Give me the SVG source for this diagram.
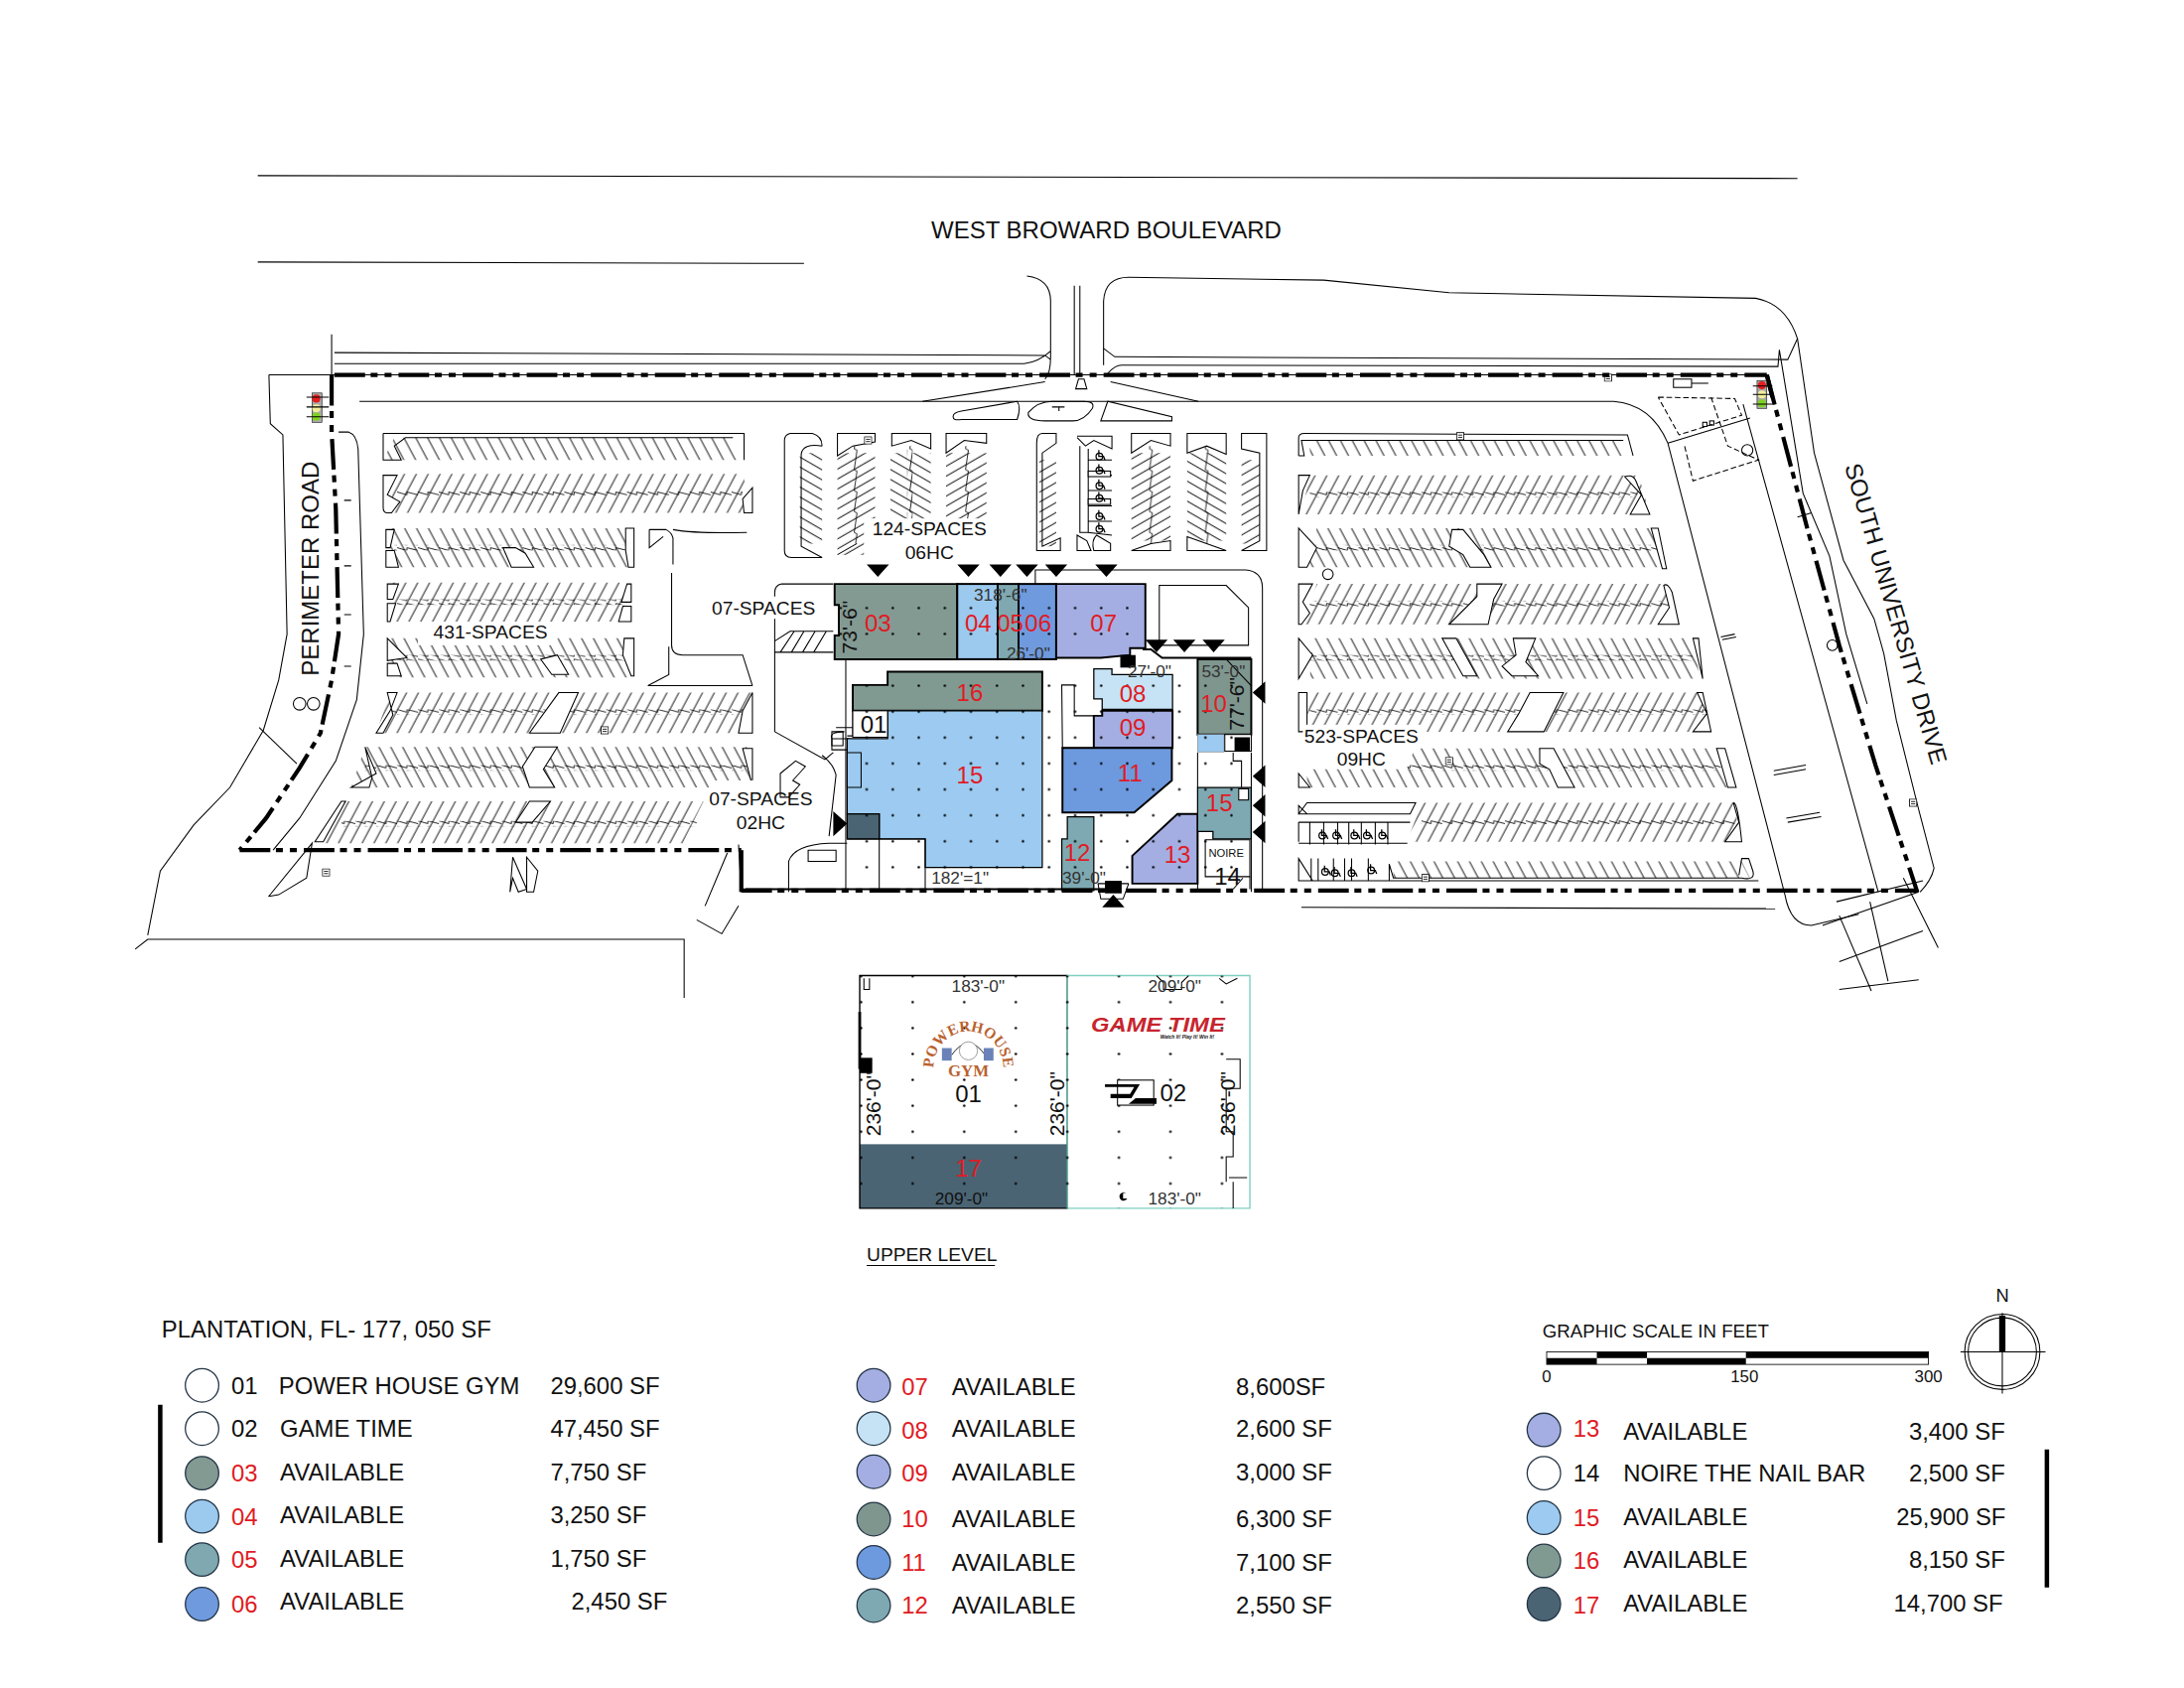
<svg xmlns="http://www.w3.org/2000/svg" width="2200" height="1700" viewBox="0 0 2200 1700">
<style>
text{font-family:"Liberation Sans",Arial,sans-serif;fill:#111}
.l{font-size:17.1px}.s{font-size:13.7px}.c{text-anchor:middle}.r{fill:#e01b24}
.d{font-size:12.3px;fill:#333}
.v{font-size:15px}
#legend .l{font-size:17px}
.k{fill:none;stroke:#000;stroke-width:.75}
.w{fill:#fff;stroke:#000;stroke-width:.75}
.b{stroke:#000;stroke-width:1.4}
.g{stroke:#000;stroke-width:.9}
.bd{fill:none;stroke:#000;stroke-width:3;stroke-dasharray:22 4 5 5 5 5}
.ar{fill:#000}
.lc{stroke:#234;stroke-width:.9}
</style>
<defs>
<pattern id="hf" width="7.500" height="7" patternUnits="userSpaceOnUse" patternTransform="rotate(28)"><path d="M3.500 0V7" stroke="#000" stroke-width=".65"/></pattern>
<pattern id="hb" width="7.500" height="7" patternUnits="userSpaceOnUse" patternTransform="rotate(-28)"><path d="M3.500 0V7" stroke="#000" stroke-width=".65"/></pattern>
<pattern id="vf" width="6.200" height="6" patternUnits="userSpaceOnUse" patternTransform="rotate(60)"><path d="M3 0V6" stroke="#000" stroke-width=".65"/></pattern>
<pattern id="vb" width="6.200" height="6" patternUnits="userSpaceOnUse" patternTransform="rotate(-60)"><path d="M3 0V6" stroke="#000" stroke-width=".65"/></pattern>
<pattern id="zz" width="15" height="4" patternUnits="userSpaceOnUse"><path d="M0 1L7 3L7 1L15 3" fill="none" stroke="#000" stroke-width=".6"/></pattern>
<pattern id="zv" width="4" height="15" patternUnits="userSpaceOnUse"><path d="M2 0L1 7L3 8L2 15" fill="none" stroke="#000" stroke-width=".6"/></pattern>
<pattern id="dots" x="621" y="491" width="18.7" height="18.6" patternUnits="userSpaceOnUse"><circle cx="1" cy="1" r=".9" fill="#000"/></pattern>
<pattern id="updots" x="654" y="718" width="37" height="18.6" patternUnits="userSpaceOnUse"><circle cx="1" cy="1" r=".9" fill="#000"/></pattern>
<symbol id="sign" width="6" height="6" viewBox="0 0 6 6"><rect x=".4" y=".4" width="5.2" height="5.2" fill="#fff" stroke="#000" stroke-width=".6"/><path d="M1.5 2.2H4.5M1.5 3.8H4.5" stroke="#000" stroke-width=".6"/></symbol>
<symbol id="hc" width="9" height="9" viewBox="0 0 9 9"><circle cx="4" cy="5.5" r="2.4" fill="none" stroke="#000" stroke-width=".9"/><path d="M3.6 1V5.5H7L8 8" fill="none" stroke="#000" stroke-width=".9"/></symbol>
</defs>
<rect width="2200" height="1700" fill="#fff"/>
<g transform="scale(1.4036)">

<g id="roads">
<path class="k" d="M185 126L1290 128M185 188L577 189"/>
<path class="k" d="M737 198Q754 200 754 216V256Q754 268 750 272M240 253L750 255L754 258M240 261L735 261Q745 260 754 252"/>
<path class="k" d="M771 205V269M775 205V269"/>
<path class="k" d="M792 262V216Q793 199 810 199L950 201L1040 210L1260 214Q1282 218 1290 243L1302 325L1323 402L1345 444L1352 469L1361 517L1377 581L1388 623Q1386 632 1378 640"/>
<path class="k" d="M792 250L800 256L1283 258L1290 243M795 268Q800 262 805 262L1276 263L1277 251L1294 354L1313 399L1325 455L1340 505"/>
<path class="k" d="M238 240V269L1268 269M193 269H238M193 269L194 304L203 312L206 455L200 488L189 524L165 565L139 592L115 625L106 671"/>
<path class="k" d="M97 681L106 674H491V716"/>
<path class="k" d="M186 522L213 548"/>
<circle class="k" cx="215" cy="505" r="4.500"/><circle class="k" cx="225" cy="505" r="4.500"/>
<path class="k" d="M258 288H1158Q1185 290 1197 318L1281 642Q1285 664 1300 664L1334 656"/>
<path class="k" d="M243 310H250Q256 312 257 322L261 455L256 502L241 546L215 587L196 610"/>
<path class="k" d="M662 288L750 274M797 274L860 288"/>
<path class="k" d="M684 299Q684 296 690 295L730 288Q733 292 730 301H690Q684 302 684 299Z"/>
<path class="k" d="M738 296Q745 288 755 288H778Q786 288 784 293Q778 302 770 302H750Q737 302 738 296Z"/>
<path class="k" d="M790 302L795 288L841 299V302Z"/>
<path class="k" d="M772 279L774 272H778L780 279Z"/>
<path class="k" d="M755 292H764M760 292V295"/>
<path class="k" d="M1251 290L1348 640M1197 318L1256 300"/>
<path class="k" stroke-dasharray="4 2" d="M1190 285L1245 286L1250 298L1205 312L1190 285M1228 285L1240 320L1262 330L1215 345L1209 320"/>
<circle class="k" cx="1254" cy="323" r="4"/><circle class="k" cx="1315" cy="463" r="3.800"/><circle class="k" cx="953" cy="412" r="3.800"/>
<rect class="k" x="1227" y="302" width="3" height="3"/><rect class="k" x="1222" y="303" width="3" height="3"/>
<rect class="k" x="1201" y="272" width="13" height="6"/>
<path class="k" d="M1214 275H1226"/>
<path class="k" d="M934 651L1274 652"/>
<path class="k" d="M1318 647L1380 632M1342 647L1355 704M1320 657L1343 711M1366 630L1391 680M1308 664L1377 640M1320 690L1380 668M1320 710L1377 703"/>
<path class="k" d="M1273 553L1296 549M1273 556L1296 552M1282 587L1306 583M1283 590L1307 586M1235 457L1245 455M1236 459L1246 457M1300 368L1290 371"/>
<path class="k" d="M252 359H247M252 406H247M252 441H247M252 478H247"/>
<path class="k" d="M193 643L224 605L220 630L200 642L194 643Z"/>
<path class="k" d="M368 615L378 638L372 640L368 630L366 640ZM378 615L386 625L383 640L378 640Z"/>
<path class="k" d="M522 612L506 650M500 660L518 670L530 650M530 605L532 640"/>
</g>

<g id="parking">
<polygon style="fill:url(#hb)" points="283,314 526,314 534,330 275,330"/>
<path class="k" d="M275 311H534V330M275 311V330H288L283 320L291 314H526"/>
<polygon style="fill:url(#hf)" points="285,340 533,340 540,368 278,368"/><rect x="285" y="352" width="248" height="4" style="fill:url(#zz)"/>
<path class="w" d="M275 341L285 341L278 355L287 360L281 368H278Q275 368 275 364Z"/><path class="w" d="M534 368L540 368V350L533 358Z"/>
<polygon style="fill:url(#hb)" points="278,379 455,379 455,407 278,407"/><rect x="283" y="391" width="170" height="4" style="fill:url(#zz)"/>
<path class="w" d="M277 380H283L280 393H277ZM277 395H283L286 407H277ZM367 407L361 393H370L377 397L383 407ZM449 379H455V407H451L449 395Z"/>
<polygon style="fill:url(#hf)" points="280,418 448,418 448,446 280,446"/><rect x="285" y="430" width="165" height="4" style="fill:url(#zz)"/>
<path class="w" d="M278 419H286L282 430H278ZM278 433H284L280 446H278ZM450 419L453 419V432H446ZM447 435H453V446H444Z"/>
<polygon style="fill:url(#hb)" points="280,458 455,458 455,486 280,486"/><rect x="284" y="470" width="170" height="4" style="fill:url(#zz)"/>
<path class="w" d="M278 458L292 472L278 474ZM278 476H285L288 485H278ZM400 470L408 484H396L388 473ZM448 458H455V485H453L447 470Z"/>
<rect x="300" y="447" width="100" height="16" fill="#fff"/>
<polygon style="fill:url(#hf)" points="280,497 540,497 540,526 270,526"/><rect x="280" y="509" width="260" height="4" style="fill:url(#zz)"/>
<path class="w" d="M278 497L285 497L280 510L270 526H275L282 513ZM401 497H415L402 526H380ZM533 510L540 497V526H530Z"/>
<polygon style="fill:url(#hb)" points="262,536 540,536 540,565 252,565"/><rect x="262" y="549" width="278" height="4" style="fill:url(#zz)"/>
<path class="w" d="M262 536L270 555L252 565H265L267 558ZM384 536H400L390 552L398 565H380L375 550ZM533 537H540V564Z"/>
<polygon style="fill:url(#hf)" points="245,575 505,575 490,605 230,605"/><rect x="245" y="589" width="255" height="4" style="fill:url(#zz)"/>
<path class="w" d="M245 575H248L232 604L226 604ZM380 575H395L382 590H370Z"/>
<rect x="510" y="560" width="95" height="46" fill="#fff"/>
<path class="k" d="M466 380H478Q482 382 483 386V405M466 380V393L476 385M483 380Q500 383 536 382M482 411V463Q482 470 490 470H533L540 492M540 492H465L480 484V464"/>

<polygon style="fill:url(#vb)" points="574,325 590,325 590,390 574,390"/><path class="k" d="M590 320Q590 313 583 311H567Q563 312 563 316V395Q563 400 568 400L590 400L575 392V326Q576 318 590 320"/>
<polygon style="fill:url(#vf)" points="601,325 628,325 628,398 601,398"/><rect x="612" y="320" width="4" height="70" style="fill:url(#zv)"/><path class="w" d="M601 311H628V317L612 320L601 327Z"/><path class="k" d="M601 398L615 390"/>
<polygon style="fill:url(#vb)" points="639,325 668,325 668,385 639,385"/><rect x="651" y="320" width="4" height="65" style="fill:url(#zv)"/><path class="w" d="M640 311H668V322L654 316L640 320Z"/>
<polygon style="fill:url(#vf)" points="679,325 708,325 708,383 679,383"/><rect x="692" y="320" width="4" height="63" style="fill:url(#zv)"/><path class="w" d="M679 311H708V318L692 316L679 325Z"/>
<polygon style="fill:url(#vf)" points="746,330 758,330 758,392 746,392"/><path class="k" d="M758 311H748Q744 311 744 318V395H761V386L748 392V325L758 318Z"/>
<path class="k" d="M773 313H798V322L785 316L779 320L773 314M775 320V382H781M781 322V382L798 384M781 330H798M781 341H798M781 352H798M781 363H798M781 374H798"/>
<rect class="w" x="781" y="338" width="16" height="4"/><rect class="w" x="781" y="358" width="16" height="4"/>
<use href="#hc" x="785" y="322"/><use href="#hc" x="785" y="332"/><use href="#hc" x="785" y="343"/><use href="#hc" x="785" y="352"/><use href="#hc" x="785" y="365"/><use href="#hc" x="785" y="374"/>
<path class="k" d="M773 384V395H783L780 388ZM787 384Q783 388 785 395H797V390Z"/>
<polygon style="fill:url(#vf)" points="812,325 840,325 840,388 812,388"/><rect x="824" y="320" width="4" height="72" style="fill:url(#zv)"/><path class="w" d="M812 311H840V320L826 316L812 325Z"/><path class="w" d="M812 395L826 390L840 388V395Z"/>
<polygon style="fill:url(#vb)" points="852,325 880,325 880,388 852,388"/><rect x="864" y="320" width="4" height="72" style="fill:url(#zv)"/><path class="w" d="M852 311H880V326L866 320L852 325Z"/><path class="w" d="M852 395V385L866 390L880 395Z"/>
<polygon style="fill:url(#vf)" points="891,330 904,330 904,390 891,390"/><path class="k" d="M891 311H909V395H891L904 388V325L891 322Z"/>
<rect x="620" y="372" width="92" height="32" fill="#fff"/>

<polygon style="fill:url(#hb)" points="940,316 1162,316 1170,327 940,327"/><path class="k" d="M932 327V314Q932 311 936 311L1168 312L1172 327M932 327H936L934 316L1165 316"/>
<polygon style="fill:url(#hf)" points="940,341 1176,341 1184,369 934,369"/><rect x="940" y="353" width="235" height="4" style="fill:url(#zz)"/><path class="w" d="M932 341H940L935 352L932 369ZM1166 342Q1172 340 1174 345L1184 369H1170L1178 355Z"/>
<polygon style="fill:url(#hb)" points="945,379 1187,379 1193,407 938,407"/><rect x="940" y="391" width="250" height="4" style="fill:url(#zz)"/><path class="w" d="M932 379L945 393L938 407H932ZM1042 380H1050L1065 398L1070 407H1055L1050 398L1040 392ZM1185 379H1190L1196 408H1193Z"/>
<polygon style="fill:url(#hf)" points="945,419 1196,419 1205,448 935,448"/><rect x="940" y="431" width="260" height="4" style="fill:url(#zz)"/><path class="w" d="M932 419H942L935 432L940 440L934 448H932ZM1060 419H1078L1072 430L1068 448H1040L1060 428ZM1194 420Q1197 418 1200 425L1205 448H1190L1198 436Z"/>
<polygon style="fill:url(#hb)" points="942,458 1215,458 1220,487 940,487"/><rect x="940" y="470" width="275" height="4" style="fill:url(#zz)"/><path class="w" d="M932 458L942 470L932 487ZM1035 458H1045L1060 485H1050ZM1086 458H1102L1095 475L1104 485H1085L1078 478L1088 470ZM1215 458H1219L1222 487Z"/>
<polygon style="fill:url(#hf)" points="942,497 1222,497 1228,525 935,525"/><rect x="940" y="509" width="285" height="4" style="fill:url(#zz)"/><path class="w" d="M932 497H938V525H932ZM1098 497H1122L1108 525H1082L1090 512ZM1218 497L1222 497L1228 525H1215L1225 512Z"/>
<rect x="935" y="520" width="88" height="26" fill="#fff"/>
<polygon style="fill:url(#hb)" points="1015,537 1238,537 1240,565 938,565 938,552 1010,552"/><rect x="1010" y="549" width="225" height="4" style="fill:url(#zz)"/><path class="w" d="M932 555L940 565H932ZM1105 537H1115L1130 565H1118L1112 552L1105 548ZM1232 537H1238L1246 565H1240Z"/>
<polygon style="fill:url(#hf)" points="1020,576 1244,576 1250,604 1010,604"/><rect x="1020" y="588" width="225" height="4" style="fill:url(#zz)"/>
<path class="w" d="M938 576H1016L1012 584H932ZM932 578V584H938ZM1244 576Q1247 575 1250 604H1238L1248 590Z"/>
<path class="k" d="M932 590H945L1012 590M932 605H1010M932 590V604M940 590V606M950 590V606M960 590V606M968 590V606M977 590V606M987 590V606M996 590V606"/>
<use href="#hc" x="945" y="594"/><use href="#hc" x="955" y="594"/><use href="#hc" x="968" y="594"/><use href="#hc" x="977" y="594"/><use href="#hc" x="988" y="594"/>
<polygon style="fill:url(#hb)" points="1000,618 1250,618 1256,630 1000,630"/>
<path class="k" d="M932 616L942 632H932ZM941 616V632H946V616M957 616V632M965 616V632M970 616V632M982 616V632L997 632V620L1000 630H1250Q1260 632 1258 625L1255 616H1250L1248 628M932 632H1262"/>
<use href="#hc" x="947" y="620"/><use href="#hc" x="954" y="621"/><use href="#hc" x="966" y="621"/><use href="#hc" x="980" y="619"/>
<use href="#sign" x="620" y="313"/><use href="#sign" x="1045" y="310"/><use href="#sign" x="1037" y="543"/><use href="#sign" x="431" y="521"/><use href="#sign" x="231" y="623"/><use href="#sign" x="1020" y="627"/><use href="#sign" x="1151" y="268"/><use href="#sign" x="1370" y="573"/>
</g>

<g id="site-extras">
<path class="k" d="M743 419V409H894Q906 410 906 422V640"/>
<path class="k" d="M598 419H561Q556 420 556 425V525M556 525L592 545L598 540M556 460L567 453H598M560 468L570 453M568 468L577 453M576 468L585 453M584 468L593 453M556 468H598"/>
<path class="k" d="M607 468V640"/>
<path class="k" d="M560 555L571 546L578 550L569 560L574 563L566 572H560ZM590 542Q598 548 600 556L595 600"/>
<path class="k" d="M566 640V618Q570 606 595 605H608M580 610H600V618H580Z"/>
<path class="k" d="M597 530H609V538H597ZM597 530Q595 525 606 525"/>
<path class="w" d="M832 420H880L896 436V463H832Z"/>
</g>

<g id="building">
<path class="w" d="M762 491.500H771V513.600H785V536.600H762.500Z"/>
<path id="u03" class="b" fill="#839a93" d="M599 419H687V473H599V456H602V434H599Z"/>
<rect id="u04" class="b" fill="#9cc9ee" x="687" y="419" width="29" height="54"/>
<rect id="u05" class="b" fill="#7fa8b0" x="716" y="419" width="15" height="54"/>
<rect id="u06" class="b" fill="#6f9ade" x="731" y="419" width="27" height="54"/>
<path id="u07" class="b" fill="#a4aee2" d="M758 419H822V465H811V470L790 472H758Z"/>
<path id="u16" class="b" fill="#809a92" d="M637 482H748V510H612V491.500H637Z"/>
<path id="u15a" class="g" fill="#9ccaf0" d="M637 510H748V622.500H664V602H631V584H608V530H637Z"/>
<path class="k" d="M608 528H612V510H637V528"/>
<rect id="u17b" class="g" fill="#4a6473" x="608" y="584" width="23" height="18"/>
<path class="k" d="M608 602H664V640M631 602V640"/>
<path class="w" d="M608 540H618V565H608Z" style="fill:#9ccaf0"/>
<path id="u08" class="g" fill="#c5e3f5" d="M785 480H798V484H841.500V509H791V501.500H785Z"/>
<path id="u09" class="b" fill="#a4aee2" d="M791 510H841.500V536.600H785V513.600H791Z"/>
<path id="u11" class="b" fill="#6d99de" d="M762.500 536.600H841V560L814 583H762.500Z"/>
<path id="u12" class="g" fill="#7ea9b2" d="M766 586H785V639H762V602H766Z"/>
<path id="u13" class="b" fill="#a4aee2" d="M845 584H859.500V634H812.600V614Z"/>
<path id="u15b" class="g" fill="#7ea9b2" d="M859.500 565H898V602H870.500V596.600H859.500Z"/>
<path id="u10" class="b" fill="#7f968f" d="M859.500 473H898V527H859.500Z"/>
<path class="k" d="M880 473L898 492"/>
<path class="w" d="M865 602.500H897V629H865Z"/>
<path class="k" d="M859.500 597V638M897 629V638M885 638L892 630"/>
<rect fill="#9ccaf0" stroke="#777" stroke-width=".4" x="859.500" y="527" width="19" height="12.500"/>
<rect class="w" x="879" y="527" width="19" height="12"/>
<rect x="886" y="529" width="11" height="10" fill="#000"/>
<path class="k" d="M859.500 540V565M885 540V546H891V565M898 540V640"/>
<rect class="w" x="889" y="566" width="7" height="8"/>
<path class="b" fill="none" d="M820 466H826L834 472H898"/>
<rect x="804" y="470" width="11" height="9" fill="#000"/>
<rect class="w" x="612" y="510" width="25" height="19"/>
<path class="k" d="M600 522H612M597 525H605V535H597Z"/>
<rect fill="url(#dots)" x="612" y="482" width="136" height="156"/>
<rect fill="url(#dots)" x="748" y="482" width="150" height="156"/>
<rect fill="url(#dots)" x="599" y="424" width="224" height="46"/>
<path class="b" fill="none" d="M535 638H800"/>
<path class="k" d="M788 634L790 645L806 645L810 634M788 634H810"/>
<rect x="793" y="632" width="12" height="9" fill="#000"/>
</g>

<g id="connectors">
<path class="bd" d="M172 610H532"/>
<path d="M532 610V640" fill="none" stroke="#000" stroke-width="3"/>
<path class="bd" d="M532 639H1376"/>
<path class="bd" d="M240 269H1268"/>
<path class="bd" d="M238 269L238 310L241 365L243 455L238 488L230 526L215 551L191 587L172 610"/>
<path class="bd" d="M1268 269L1297 379L1320 463L1346 549L1376 640"/>
<path d="M1268 269L1272 285" stroke="#000" stroke-width="3"/>
</g>

<g id="arrows" class="ar">
<path d="M622 405H638L630 414ZM687 405H703L695 414ZM710 405H726L718 414ZM729 405H745L737 414ZM750 405H766L758 414ZM786 405H802L794 414Z"/>
<path d="M822 459H838L830 468ZM842 459H858L850 468ZM863 459H879L871 468Z"/>
<path d="M899 497L908 489V505ZM899 557L908 549V565ZM899 578L908 570V586ZM899 597L908 589V605Z"/>
<path d="M598 582L608 591L598 600Z"/>
<path d="M791 651L799 642L807 651Z"/>
</g>

<g id="lights">
<rect x="224" y="282" width="7" height="21" fill="#aaa" stroke="#000" stroke-width=".4"/>
<circle cx="227" cy="286" r="2.900" fill="#e41e1e"/><circle cx="227" cy="293" r="2.900" fill="#f2ee9c"/><circle cx="227" cy="299" r="2.900" fill="#7ed321"/>
<rect x="1261" y="273" width="7" height="20" fill="#aaa" stroke="#000" stroke-width=".4"/>
<circle cx="1264.500" cy="276.500" r="2.900" fill="#e41e1e"/><circle cx="1264.500" cy="283" r="2.900" fill="#f2ee9c"/><circle cx="1264.500" cy="289.500" r="2.900" fill="#7ed321"/>
<path class="k" d="M220 285H236M220 292H236M220 299H236M1258 277H1272M1258 283H1272M1258 290H1272"/>
</g>

<g id="labels">
<rect x="510" y="428" width="76" height="16" fill="#fff"/>
<text class="l c" x="794" y="171">WEST BROWARD BOULEVARD</text>
<text class="l c" transform="translate(229,408) rotate(-90)">PERIMETER ROAD</text>
<text class="l c" transform="translate(1355,442) rotate(73.8)">SOUTH UNIVERSITY DRIVE</text>
<text class="s c" x="667" y="384">124-SPACES</text><text class="s c" x="667" y="401">06HC</text>
<text class="s c" x="548" y="441">07-SPACES</text>
<text class="s c" x="352" y="458">431-SPACES</text>
<text class="s c" x="546" y="578">07-SPACES</text><text class="s c" x="546" y="595">02HC</text>
<text class="s c" x="977" y="533">523-SPACES</text><text class="s c" x="977" y="549">09HC</text>
<text class="l c r" x="630" y="453">03</text><text class="l c r" x="702" y="453">04</text><text class="l c r" x="725" y="453">05</text><text class="l c r" x="745" y="453">06</text><text class="l c r" x="792" y="453">07</text>
<text class="l c r" x="696" y="503">16</text><text class="l c r" x="696" y="562">15</text><text class="l c r" x="813" y="504">08</text><text class="l c r" x="813" y="528">09</text><text class="l c r" x="811" y="561">11</text>
<text class="l c r" x="871" y="511">10</text><text class="l c r" x="875" y="582">15</text><text class="l c r" x="773" y="618">12</text><text class="l c r" x="845" y="619">13</text>
<text class="l c" x="627" y="526">01</text>
<text class="l c" x="881" y="635">14</text>
<text class="c" x="880" y="615" font-size="8">NOIRE</text>
<text class="d c" x="718" y="431">318'-6"</text><text class="d c" x="738" y="473">26'-0"</text>
<text class="d c" x="825" y="486">27'-0"</text><text class="d c" x="878" y="486">53'-0"</text>
<text class="d c" x="689" y="634">182'=1"</text><text class="d c" x="778" y="634">39'-0"</text>
<text class="v c" transform="translate(615,450) rotate(-90)">73'-6"</text>
<text class="v c" transform="translate(893,505) rotate(-90)">77'-6"</text>
</g>

<g id="upper-level">
<rect x="617" y="700" width="149" height="167" fill="#fff"/>
<rect x="766" y="700" width="131" height="167" fill="#fff"/>
<rect x="617" y="821" width="149" height="46" fill="#4a6473"/>
<path fill="none" stroke="#000" stroke-width="1" d="M617 700H766V867H617Z"/>
<path fill="none" stroke="#7fd0c0" stroke-width="1" d="M766 700H897V867H766Z"/>
<rect x="617" y="700" width="280" height="167" fill="url(#updots)"/>
<path d="M617 726V767" stroke="#000" stroke-width="2"/><rect x="617" y="759" width="9" height="11" fill="#000"/>
<path class="k" d="M617 700H640M620 702V710H624V702M830 700L835 705V710H848V705L853 700M875 702L880 706L888 702"/>
<path class="k" d="M880 760H890V781H880V812H885V830H880V848M882 845H895M885 848V867"/>
<rect class="w" x="802" y="775" width="26" height="18"/>
<path d="M793 778H818L812 788H797V785H811L814 780H793ZM815 788H830V792H810Z" fill="#000"/>
<path fill="#000" d="M804 865V856H806V860H809A3 3 0 1 1 808 856H804Z"/>
<path id="pw" fill="none" d="M670 766A25 26 0 0 1 720 766"/>
<text font-size="11" font-weight="bold" style="fill:#b9622f;font-family:'Liberation Serif',serif"><textPath href="#pw" startOffset="50%" text-anchor="middle">POWERHOUSE</textPath></text>
<text class="c" x="695" y="772" font-size="12" font-weight="bold" style="fill:#b9622f;font-family:'Liberation Serif',serif">GYM</text>
<path fill="none" stroke="#222" stroke-width=".7" d="M683 757Q695 740 707 757"/>
<circle cx="695" cy="754" r="6.500" fill="#fff" stroke="#777" stroke-width=".5"/>
<rect x="676" y="752" width="7" height="9" fill="#6b82b8"/><rect x="706" y="752" width="7" height="9" fill="#6b82b8"/>
<text class="c" x="831" y="740" font-size="15" font-weight="bold" font-style="italic" textLength="96" lengthAdjust="spacingAndGlyphs" style="fill:#c8242e">GAME TIME</text>
<text class="c" x="852" y="745" font-size="3.500" font-weight="bold" font-style="italic">Watch It! Play It! Win It!</text>
<text class="d c" x="702" y="712">183'-0"</text><text class="d c" x="843" y="712">209'-0"</text>
<text class="l c" x="695" y="791">01</text><text class="l c" x="842" y="790">02</text>
<text class="l c r" x="695" y="844">17</text>
<text class="d c" x="690" y="864" style="fill:#111">209'-0"</text><text class="d c" x="843" y="864">183'-0"</text>
<text class="v c" transform="translate(632,792) rotate(-90)">236'-0"</text>
<text class="v c" transform="translate(764,792) rotate(-90)">236'-0"</text>
<text class="v c" transform="translate(886,792) rotate(-90)">236'-0"</text>
<text class="s" x="622" y="905">UPPER LEVEL</text>
<path d="M622 908H714" stroke="#000" stroke-width=".8"/>
</g>

<g id="legend">
<text class="l" x="116" y="960">PLANTATION, FL- 177, 050 SF</text>
<path d="M115 1008V1107M1469 1040V1139" stroke="#000" stroke-width="3.200"/>

<circle class="lc" cx="145" cy="994" r="12" fill="#fff"/><text class="l" x="166" y="1000">01</text><text class="l" x="200" y="1000">POWER HOUSE GYM</text><text class="l" x="395" y="1000">29,600 SF</text>
<circle class="lc" cx="145" cy="1025" r="12" fill="#fff"/><text class="l" x="166" y="1031">02</text><text class="l" x="201" y="1031">GAME TIME</text><text class="l" x="395" y="1031">47,450 SF</text>
<circle class="lc" cx="145" cy="1057" r="12" fill="#839a93"/><text class="l r" x="166" y="1063">03</text><text class="l" x="201" y="1062">AVAILABLE</text><text class="l" x="395" y="1062">7,750 SF</text>
<circle class="lc" cx="145" cy="1088" r="12" fill="#9cc9ee"/><text class="l r" x="166" y="1094">04</text><text class="l" x="201" y="1093">AVAILABLE</text><text class="l" x="395" y="1093">3,250 SF</text>
<circle class="lc" cx="145" cy="1119" r="12" fill="#7fa8b0"/><text class="l r" x="166" y="1125">05</text><text class="l" x="201" y="1124">AVAILABLE</text><text class="l" x="395" y="1124">1,750 SF</text>
<circle class="lc" cx="145" cy="1151" r="12" fill="#6f9ade"/><text class="l r" x="166" y="1157">06</text><text class="l" x="201" y="1155">AVAILABLE</text><text class="l" x="410" y="1155">2,450 SF</text>

<circle class="lc" cx="627" cy="994" r="12" fill="#a4aee2"/><text class="l r" x="647" y="1001">07</text><text class="l" x="683" y="1001">AVAILABLE</text><text class="l" x="887" y="1001">8,600SF</text>
<circle class="lc" cx="627" cy="1025" r="12" fill="#c5e3f5"/><text class="l r" x="647" y="1032">08</text><text class="l" x="683" y="1031">AVAILABLE</text><text class="l" x="887" y="1031">2,600 SF</text>
<circle class="lc" cx="627" cy="1056" r="12" fill="#a4aee2"/><text class="l r" x="647" y="1063">09</text><text class="l" x="683" y="1062">AVAILABLE</text><text class="l" x="887" y="1062">3,000 SF</text>
<circle class="lc" cx="627" cy="1090" r="12" fill="#7f968f"/><text class="l r" x="647" y="1096">10</text><text class="l" x="683" y="1096">AVAILABLE</text><text class="l" x="887" y="1096">6,300 SF</text>
<circle class="lc" cx="627" cy="1121" r="12" fill="#6d99de"/><text class="l r" x="647" y="1127">11</text><text class="l" x="683" y="1127">AVAILABLE</text><text class="l" x="887" y="1127">7,100 SF</text>
<circle class="lc" cx="627" cy="1152" r="12" fill="#7ea9b2"/><text class="l r" x="647" y="1158">12</text><text class="l" x="683" y="1158">AVAILABLE</text><text class="l" x="887" y="1158">2,550 SF</text>

<circle class="lc" cx="1108" cy="1026" r="12" fill="#a4aee2"/><text class="l r" x="1129" y="1031">13</text><text class="l" x="1165" y="1033">AVAILABLE</text><text class="l" x="1370" y="1033">3,400 SF</text>
<circle class="lc" cx="1108" cy="1057" r="12" fill="#fff"/><text class="l" x="1129" y="1063">14</text><text class="l" x="1165" y="1063">NOIRE THE NAIL BAR</text><text class="l" x="1370" y="1063">2,500 SF</text>
<circle class="lc" cx="1108" cy="1089" r="12" fill="#9ccaf0"/><text class="l r" x="1129" y="1095">15</text><text class="l" x="1165" y="1094">AVAILABLE</text><text class="l" x="1361" y="1094">25,900 SF</text>
<circle class="lc" cx="1108" cy="1120" r="12" fill="#809a92"/><text class="l r" x="1129" y="1126">16</text><text class="l" x="1165" y="1125">AVAILABLE</text><text class="l" x="1370" y="1125">8,150 SF</text>
<circle class="lc" cx="1108" cy="1151" r="12" fill="#4a6473"/><text class="l r" x="1129" y="1158">17</text><text class="l" x="1165" y="1156">AVAILABLE</text><text class="l" x="1359" y="1156">14,700 SF</text>
</g>

<g id="scale-north">
<text x="1107" y="960" font-size="13.300">GRAPHIC SCALE IN FEET</text>
<rect x="1110" y="970" width="274" height="9" fill="#fff" stroke="#000" stroke-width=".6"/>
<path fill="#000" d="M1110 974.500H1146V979H1110ZM1146 970H1182V974.500H1146ZM1182 974.500H1253V979H1182ZM1253 970H1384V974.500H1253Z"/>
<text class="c" x="1110" y="992" font-size="12">0</text><text class="c" x="1252" y="992" font-size="12">150</text><text class="c" x="1384" y="992" font-size="12">300</text>
<circle class="k" cx="1437" cy="970" r="27"/><circle class="k" cx="1437" cy="970" r="24.500"/>
<path class="k" d="M1407 970H1468M1437 942V1000"/>
<path d="M1437 944V970" stroke="#000" stroke-width="4.500"/>
<text class="c" x="1437" y="934" font-size="13">N</text>
</g>
</g>
</svg>
